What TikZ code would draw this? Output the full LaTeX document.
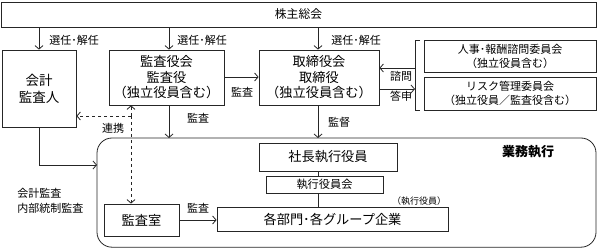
\documentclass[tikz,border=0pt]{standalone}
\usepackage{fontspec}
\setmainfont{Noto Sans CJK JP}
\usetikzlibrary{arrows.meta}
\begin{document}
\begin{tikzpicture}[x=1pt,y=-1pt,
  line width=0.8pt,
  box/.style={draw=black!85,rectangle,inner sep=0pt,align=center,font=\fontsize{13.2}{15.5}\selectfont},
  lbl/.style={inner sep=0pt,font=\fontsize{11}{12}\selectfont},
  arr/.style={draw=black!85,-{Straight Barb[length=3.5pt,width=8pt]}},
  ln/.style={draw=black!85}]
\useasboundingbox (0,0) rectangle (599,248);
% boxes
\node[box,minimum width=595pt,minimum height=25pt,font=\fontsize{11.8}{13}\selectfont] (top) at (298.5,14.5) {株主総会};
\node[box,minimum width=74pt,minimum height=77pt,font=\fontsize{13.5}{17}\selectfont] (acc) at (39,88.5) {会計\\監査人};
\node[box,minimum width=115pt,minimum height=55pt] (aud) at (166.5,77.5) {監査役会\\監査役\\（独立役員含む）};
\node[box,minimum width=120pt,minimum height=55pt] (brd) at (319,77.5) {取締役会\\取締役\\（独立役員含む）};
\node[box,minimum width=172pt,minimum height=32pt,font=\fontsize{11}{14}\selectfont] (hr) at (510,56) {人事･報酬諮問委員会\\（独立役員含む）};
\node[box,minimum width=172pt,minimum height=33pt,font=\fontsize{11}{14}\selectfont] (risk) at (510,93.5) {リスク管理委員会\\（独立役員／監査役含む）};
\draw[draw=black!85,rounded corners=15pt] (97,138) rectangle (596,247.2);
\coordinate (exectop) at (318,138);
\coordinate (execleft) at (97,165);
\node[box,minimum width=138pt,minimum height=28pt] (ceo) at (328,157) {社長執行役員};
\node[box,minimum width=117pt,minimum height=17pt,font=\fontsize{11.2}{13}\selectfont] (ec) at (324.5,184.5) {執行役員会};
\node[box,minimum width=231pt,minimum height=24pt] (dept) at (332.5,219) {各部門･各グループ企業};
\node[box,minimum width=75pt,minimum height=32pt] (ia) at (141.5,220) {監査室};
% labels
\node[lbl,anchor=west] (l1) at (49,40) {選任･解任};
\node[lbl,anchor=west] (l2) at (177,40) {選任･解任};
\node[lbl,anchor=west] (l3) at (331,40) {選任･解任};
\node[lbl] (l4) at (242,92) {監査};
\node[lbl] (l5) at (198,118) {監査};
\node[lbl] (l6) at (339,122) {監督};
\node[lbl] (l7) at (401,76) {諮問};
\node[lbl] (l8) at (401,96) {答申};
\node[lbl] (l9) at (113,128) {連携};
\node[lbl] (l10) at (198,208) {監査};
\node[lbl,anchor=west,align=left,font=\fontsize{11}{15}\selectfont] (l11) at (17,200.5) {会計監査\\内部統制監査};
\node[inner sep=0pt,font=\bfseries\fontsize{13}{14}\selectfont] (l12) at (528,152) {業務執行};
\node[inner sep=0pt,font=\fontsize{9}{11}\selectfont] (l13) at (419,201) {（執行役員）};
% arrows from top
\draw[arr] (top.south -| acc.north) -- (acc.north);
\draw[arr] ([xshift=2.5pt]top.south -| aud.north) -- ([xshift=2.5pt]aud.north);
\draw[arr] ([xshift=-1pt]top.south -| brd.north) -- ([xshift=-1pt]brd.north);
% audit board -> board
\draw[arr] ([yshift=0.5pt]aud.east) -- ([yshift=0.5pt]aud.east -| brd.west);
% board <-> committees
\coordinate (brk) at (415,75);
\draw[ln] (420,40) -- (415,40) -- (415,110) -- (420,110);
\draw[arr] ([yshift=-11.5pt]brd.east) -- ([yshift=-11.5pt]brd.east -| brk);
\draw[arr] ([yshift=9.5pt]brd.east -| brk) -- ([yshift=9.5pt]brd.east);
% down lines
\draw[arr] ([xshift=2.5pt]aud.south) -- ([xshift=2.5pt]aud.south |- exectop);
\draw[arr] ([xshift=-1pt]brd.south) -- (exectop);
\draw[ln] (ceo.south -| exectop) -- (ec.north -| exectop);
\draw[ln] (ec.south -| exectop) -- (dept.north -| exectop);
% accountant -> exec
\draw[arr] (acc.south) |- (execleft);
% internal audit -> dept
\draw[arr] (ia.east) -- (ia.east -| dept.west);
% dashed
\coordinate (jn) at (131,116);
\draw[arr,dashed] (jn) -- (jn |- aud.south);
\draw[arr,dashed] (jn) -- (jn |- ia.north);
\draw[arr,dashed] (jn) -- (jn -| acc.east);
\end{tikzpicture}
\end{document}
